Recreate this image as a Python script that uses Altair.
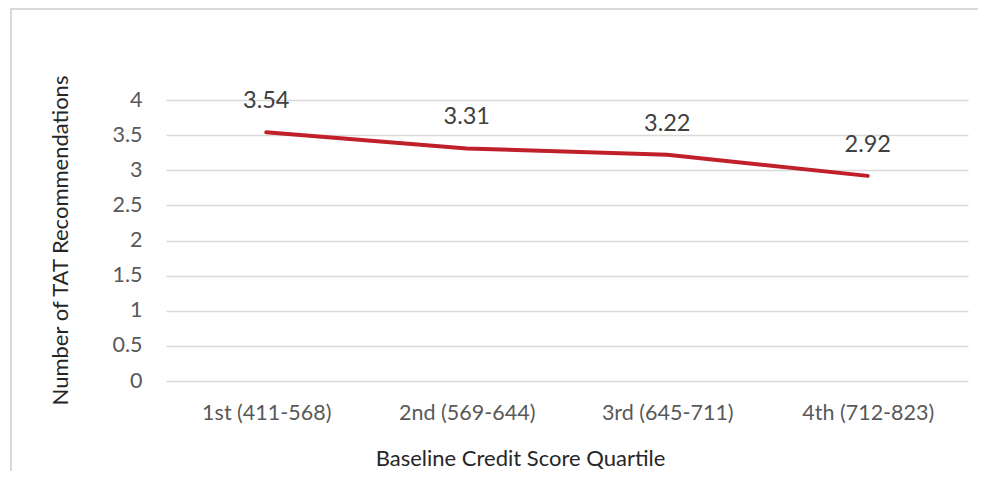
import altair as alt
import pandas as pd

categories = ["1st (411-568)", "2nd (569-644)", "3rd (645-711)", "4th (712-823)"]
values = [3.54, 3.31, 3.22, 2.92]
labels = ["3.54", "3.31", "3.22", "2.92"]
y_ticks = [0, 0.5, 1, 1.5, 2, 2.5, 3, 3.5, 4]

df = pd.DataFrame({"q": categories, "v": values, "lab": labels})

FONT = "Lato"
W, H = 802, 281

x = alt.X("q:N", sort=categories, scale=alt.Scale(type="point", padding=0.5),
          axis=alt.Axis(title="Baseline Credit Score Quartile", labelAngle=0, domain=False, ticks=False,
                        grid=False, labelFontSize=21.5, labelColor="#595959", labelFont=FONT,
                        labelPadding=21, titleFont=FONT, titleFontSize=22, titleFontWeight="normal",
                        titleColor="#262626", titleX=354, titleY=77, titleBaseline="middle"))
y = alt.Y("v:Q", scale=alt.Scale(domain=[0, 4], nice=False),
          axis=alt.Axis(title="Number of TAT Recommendations", values=y_ticks,
                        format="~g", domain=False, ticks=False, grid=True, gridColor="#d9d9d9", gridWidth=1.3,
                        labelFontSize=21.5, labelColor="#595959", labelFont=FONT, labelPadding=24,
                        labelOverlap=False,
                        titleFont=FONT, titleFontSize=22, titleFontWeight="normal", titleColor="#262626",
                        titleX=-106, titleY=140, titleAngle=-90, titleAlign="center", titleBaseline="middle"))

base = alt.Chart(df).encode(x=x, y=y)

frame_top = alt.Chart(df).mark_rule(stroke="#d9d9d9", strokeWidth=2, clip=False).encode(
    x=alt.value(-156), x2=alt.value(900), y=alt.value(-91)
)
frame_left = alt.Chart(df).mark_rule(stroke="#d9d9d9", strokeWidth=2, clip=False).encode(
    x=alt.value(-155), y=alt.value(-92), y2=alt.value(500)
)

line = base.mark_line(color="#c0202a", strokeWidth=4, strokeCap="round")

text = base.mark_text(dy=-31, fontSize=23.5, font=FONT, color="#404040", baseline="middle").encode(
    text="lab:N")

chart = alt.layer(frame_top, frame_left, line, text).properties(
    width=W, height=H,
    autosize=alt.AutoSizeParams(type="none"),
    padding={"left": 158, "top": 92, "right": 10, "bottom": 90},
).configure_view(stroke=None)

chart.save("out.html", embed_options={"renderer": "svg", "actions": False})
